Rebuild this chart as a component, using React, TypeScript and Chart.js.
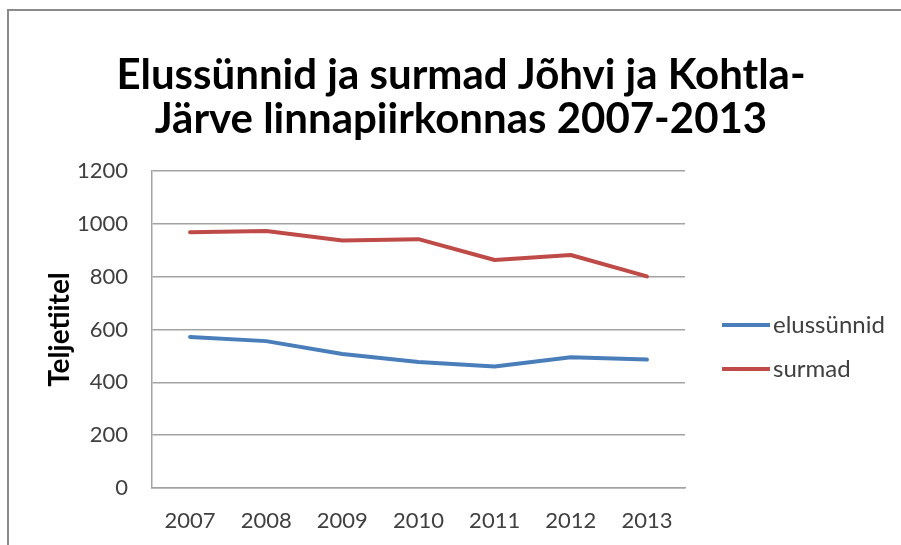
import React, { useEffect, useRef } from "react";
import { Chart, registerables } from "chart.js";

Chart.register(...registerables);

const titleLines = ["Elussünnid ja surmad Jõhvi ja Kohtla-", "Järve linnapiirkonnas 2007-2013"];
const years = ["2007", "2008", "2009", "2010", "2011", "2012", "2013"];
const births = [572, 556, 507, 477, 460, 495, 486];
const deaths = [968, 973, 937, 942, 863, 882, 801];
const yAxisTitle = "Teljetiitel";
const seriesNames = ["elussünnid", "surmad"];
const yMin = 0;
const yMax = 1200;
const yStep = 200;

const FONT = "Lato, 'Noto Sans', sans-serif";
const GRID = "#a3a3a3";
const TEXT = "#404040";

const framePlugin = {
  id: "frameTitleLegend",
  beforeDraw(chart: any) {
    const ctx = chart.ctx;
    ctx.save();
    ctx.fillStyle = "#ffffff";
    ctx.fillRect(0, 0, chart.width, chart.height);
    ctx.strokeStyle = "#8a8a8a";
    ctx.lineWidth = 2;
    ctx.beginPath();
    ctx.moveTo(8, chart.height);
    ctx.lineTo(8, 10);
    ctx.lineTo(chart.width, 10);
    ctx.stroke();
    ctx.restore();
  },
  afterDraw(chart: any) {
    const ctx = chart.ctx;
    ctx.save();
    ctx.fillStyle = "#000000";
    ctx.font = `bold 42px ${FONT}`;
    ctx.textAlign = "center";
    ctx.textBaseline = "middle";
    titleLines.forEach((line, i) => {
      ctx.fillText(line, 461, 75 + i * 44);
    });
    // legend
    const spacing = 44;
    chart.data.datasets.forEach((ds: any, i: number) => {
      const y = 325 + i * spacing;
      ctx.strokeStyle = ds.borderColor;
      ctx.lineWidth = 4;
      ctx.beginPath();
      ctx.moveTo(722, y);
      ctx.lineTo(770, y);
      ctx.stroke();
      ctx.fillStyle = TEXT;
      ctx.font = `24px ${FONT}`;
      ctx.textAlign = "left";
      ctx.textBaseline = "middle";
      ctx.fillText(ds.label, 773, y);
    });
    ctx.restore();
  },
};

export default function App() {
  const ref = useRef<HTMLCanvasElement | null>(null);
  useEffect(() => {
    if (!ref.current) return;
    const chart = new Chart(ref.current, {
      type: "line",
      data: {
        labels: years,
        datasets: [
          {
            label: seriesNames[0],
            data: births,
            borderColor: "#4A7EBB",
            backgroundColor: "#4A7EBB",
            borderWidth: 4,
            pointRadius: 0,
            tension: 0,
            borderJoinStyle: "round",
            borderCapStyle: "round",
          },
          {
            label: seriesNames[1],
            data: deaths,
            borderColor: "#BE4B48",
            backgroundColor: "#BE4B48",
            borderWidth: 4,
            pointRadius: 0,
            tension: 0,
            borderJoinStyle: "round",
            borderCapStyle: "round",
          },
        ],
      },
      options: {
        animation: false,
        responsive: false,
        maintainAspectRatio: false,
        layout: { padding: { left: 0, top: 171, right: 216, bottom: 0 } },
        plugins: {
          legend: { display: false },
          title: { display: false },
          tooltip: { enabled: false },
        },
        scales: {
          x: {
            offset: true,
            grid: { display: false, drawTicks: false },
            border: { display: true, color: GRID, width: 1.5 },
            ticks: { color: TEXT, font: { family: FONT, size: 22 }, padding: 20 },
            afterFit: (s: any) => {
              s.height = 57;
            },
          },
          y: {
            min: yMin,
            max: yMax,
            ticks: {
              stepSize: yStep,
              color: TEXT,
              font: { family: FONT, size: 22 },
              padding: 24,
              callback: (v: any) => String(v),
            },
            grid: { color: GRID, lineWidth: 1.5, drawTicks: false },
            border: { display: true, color: GRID, width: 1.5 },
            title: {
              display: true,
              text: yAxisTitle,
              color: "#000000",
              font: { family: FONT, size: 28, weight: "bold" },
              padding: { top: 43, bottom: 0 },
            },
            afterFit: (s: any) => {
              s.width = 152;
            },
          },
        },
      },
      plugins: [framePlugin],
    });
    return () => chart.destroy();
  }, []);
  return (
    <div style={{ position: "absolute", left: 0, top: 0, width: 901, height: 545 }}>
      <canvas ref={ref} width={901} height={545} style={{ display: "block", width: 901, height: 545 }} />
    </div>
  );
}
